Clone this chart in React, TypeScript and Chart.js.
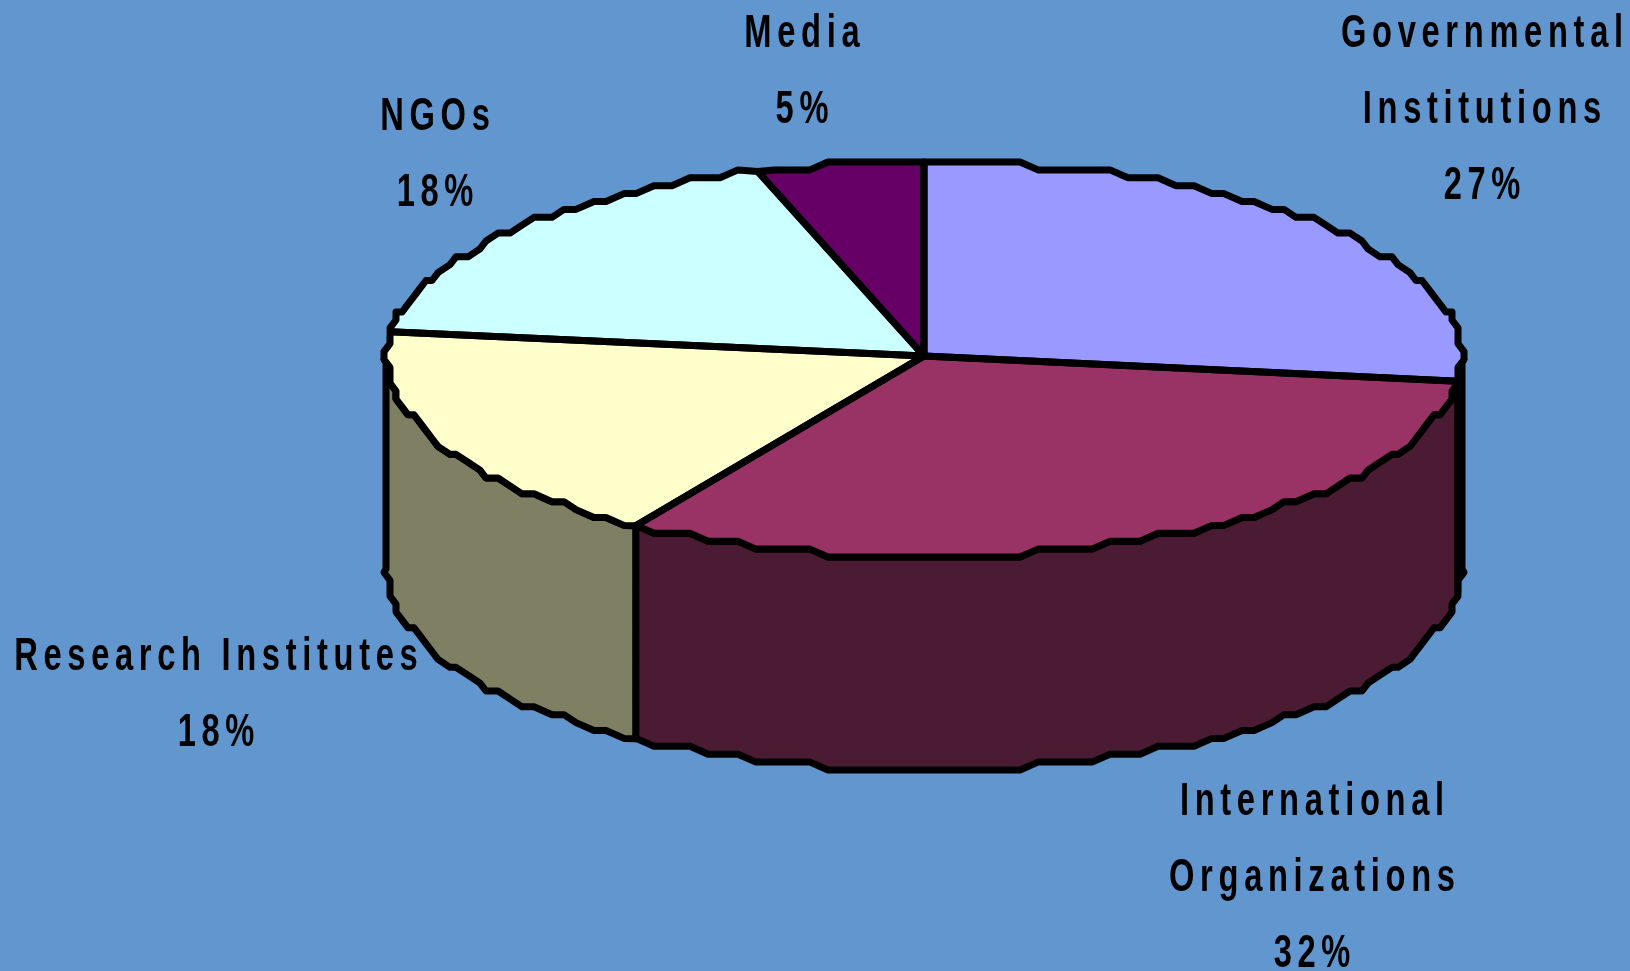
import React, { useEffect, useRef } from "react";
import { Chart, registerables } from "chart.js";

Chart.register(...registerables);

const categories = ["Governmental Institutions", "International Organizations", "Research Institutes", "NGOs", "Media"];
const shares = [27, 32, 18, 18, 5];
const sliceColors = ["#9999FF", "#993366", "#FFFFCC", "#CCFFFF", "#660066"];
const sideColors = ["#4D4D80", "#4B1B33", "#7F7F63", "#668080", "#330033"];
const labelLines = [["Governmental", "Institutions"], ["International", "Organizations"], ["Research Institutes"], ["NGOs"], ["Media"]];
const labelCenterX = [1482, 1312, 216, 435, 802];
const labelFirstBaseline = [47, 815, 670, 130, 47];

const BG = "#6196CF";
const RX = 538;
const RY_BACK = 194;
const RY_FRONT = 201;
const DEPTH = 213;
const OVERFILL = 10;
const GRID_X = 6;
const GRID_Y = 7.9;
const STEP = (2 * Math.PI) / 180;
const STROKE = 7;
const LETTER_SPACING = 8;
const TEXT_SCALE = 0.71;

type Pt = [number, number];

function rimPoints(cx: number, cy: number, a0: number, a1: number): Pt[] {
  const lowest = cy + RY_FRONT;
  const raw = (a: number): Pt => {
    const s = Math.sin(a);
    return [cx + RX * Math.cos(a), cy + (s > 0 ? RY_FRONT : RY_BACK) * s];
  };
  const snapped = (a: number): Pt => {
    const [x, y] = raw(a);
    return [Math.round(x / GRID_X) * GRID_X, lowest - Math.round((lowest - y) / GRID_Y) * GRID_Y];
  };
  const pts: Pt[] = [raw(a0)];
  let k = Math.ceil(a0 / STEP + 1e-6);
  while (k * STEP < a1 - 1e-6) {
    pts.push(snapped(k * STEP));
    k++;
  }
  pts.push(raw(a1));
  return pts;
}

function tracePoly(ctx: CanvasRenderingContext2D, pts: Pt[]) {
  ctx.beginPath();
  pts.forEach((p, i) => (i ? ctx.lineTo(p[0], p[1]) : ctx.moveTo(p[0], p[1])));
  ctx.closePath();
}

const pie3d = {
  id: "pie3d",
  beforeDraw(chart: any) {
    const { ctx, width, height } = chart;
    ctx.save();
    ctx.fillStyle = BG;
    ctx.fillRect(0, 0, width, height);
    ctx.restore();
  },
  beforeDatasetsDraw(chart: any) {
    const { ctx } = chart;
    const arcs = chart.getDatasetMeta(0).data;
    ctx.save();
    ctx.lineWidth = STROKE;
    ctx.lineJoin = "round";
    ctx.strokeStyle = "#000";
    arcs.forEach((arc: any, i: number) => {
      // only the front half of the rim (0..PI in canvas angles) shows a wall
      const a0 = Math.max(arc.startAngle, 0);
      const a1 = Math.min(arc.endAngle, Math.PI);
      if (a1 <= a0) return;
      const top = rimPoints(arc.x, arc.y, a0, a1);
      const bottom = top.map((p): Pt => [p[0], p[1] + DEPTH]).reverse();
      tracePoly(ctx, [...top, ...bottom]);
      ctx.fillStyle = sideColors[i];
      ctx.fill();
      ctx.stroke();
    });
    ctx.restore();
  },
  beforeDatasetDraw(chart: any) {
    const { ctx } = chart;
    const first = chart.getDatasetMeta(0).data[0];
    const cx = first.x;
    const cy = first.y;
    ctx.save();
    tracePoly(ctx, rimPoints(cx, cy, -Math.PI / 2, (3 * Math.PI) / 2));
    ctx.clip();
    ctx.translate(0, cy);
    ctx.scale(1, (RY_BACK + RY_FRONT) / 2 / RX);
    ctx.translate(0, -cy);
  },
  afterDatasetDraw(chart: any) {
    const { ctx } = chart;
    ctx.restore();
    const arcs = chart.getDatasetMeta(0).data;
    ctx.save();
    ctx.lineWidth = STROKE;
    ctx.lineJoin = "round";
    ctx.strokeStyle = "#000";
    arcs.forEach((arc: any) => {
      tracePoly(ctx, [[arc.x, arc.y], ...rimPoints(arc.x, arc.y, arc.startAngle, arc.endAngle)]);
      ctx.stroke();
    });
    ctx.restore();
  },
  afterDraw(chart: any) {
    const { ctx } = chart;
    ctx.save();
    ctx.fillStyle = "#000";
    ctx.font = 'bold 46px "Liberation Sans", Arial, sans-serif';
    ctx.textAlign = "center";
    ctx.textBaseline = "alphabetic";
    (ctx as any).letterSpacing = `${LETTER_SPACING}px`;
    shares.forEach((v, i) => {
      const lines = [...labelLines[i], `${v}%`];
      lines.forEach((line, j) => {
        ctx.save();
        ctx.translate(labelCenterX[i] + (LETTER_SPACING * TEXT_SCALE) / 2, labelFirstBaseline[i] + j * 76);
        ctx.scale(TEXT_SCALE, 1);
        ctx.fillText(line, 0, 0);
        ctx.restore();
      });
    });
    ctx.restore();
  },
};

export default function App() {
  const ref = useRef<HTMLCanvasElement | null>(null);
  useEffect(() => {
    document.body.style.margin = "0";
    document.body.style.background = BG;
    const chart = new Chart(ref.current as HTMLCanvasElement, {
      type: "pie",
      data: {
        labels: categories,
        datasets: [
          {
            data: shares,
            backgroundColor: sliceColors,
            borderWidth: 0,
            clip: false,
          } as any,
        ],
      },
      options: {
        animation: false,
        responsive: false,
        devicePixelRatio: 1,
        rotation: 0,
        radius: RX + OVERFILL,
        layout: { padding: { left: 218, bottom: 259 } },
        plugins: { legend: { display: false }, tooltip: { enabled: false }, title: { display: false } },
      } as any,
      plugins: [pie3d as any],
    });
    return () => chart.destroy();
  }, []);
  return <canvas ref={ref} width={1630} height={971} style={{ display: "block", width: 1630, height: 971 }} />;
}
